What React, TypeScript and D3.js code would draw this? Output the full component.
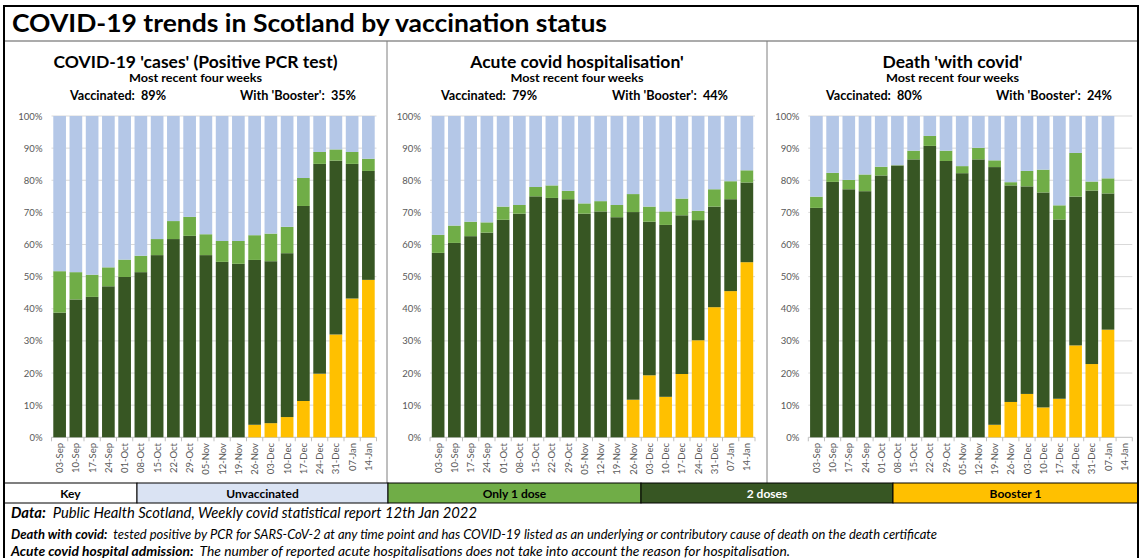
import React from "react";
import * as d3 from "d3";

// Week-ending dates shown on every panel
const weeks = [
  "03-Sep", "10-Sep", "17-Sep", "24-Sep", "01-Oct", "08-Oct", "15-Oct", "22-Oct", "29-Oct", "05-Nov",
  "12-Nov", "19-Nov", "26-Nov", "03-Dec", "10-Dec", "17-Dec", "24-Dec", "31-Dec", "07-Jan", "14-Jan",
];

// Share (%) of each group per week — COVID-19 cases (positive PCR test)
const casesBooster = [0, 0, 0, 0, 0, 0, 0, 0, 0, 0, 0, 0, 3.9, 4.4, 6.3, 11.3, 19.8, 32.0, 43.2, 49.0];
const casesTwoDoses = [38.8, 42.9, 43.7, 47.0, 49.9, 51.4, 56.7, 61.7, 62.7, 56.7, 54.6, 54.0, 51.3, 50.4, 51.0, 60.7, 65.3, 54.1, 41.9, 33.9];
const casesOneDose = [12.9, 8.5, 6.9, 5.9, 5.4, 5.1, 5.0, 5.6, 5.9, 6.5, 6.5, 7.1, 7.7, 8.6, 8.2, 8.7, 3.7, 3.5, 3.7, 3.8];

// Acute covid hospitalisation
const hospBooster = [0, 0, 0, 0, 0, 0, 0, 0, 0, 0, 0, 0, 11.7, 19.3, 12.6, 19.7, 30.2, 40.5, 45.5, 54.5];
const hospTwoDoses = [57.4, 60.5, 62.6, 63.7, 67.7, 69.6, 75.0, 74.5, 74.1, 69.6, 70.3, 68.5, 58.4, 47.8, 53.5, 49.4, 37.4, 31.3, 28.6, 24.8];
const hospOneDose = [5.6, 5.4, 4.5, 3.2, 4.1, 2.7, 2.9, 3.9, 2.6, 3.2, 3.2, 3.8, 5.6, 4.7, 4.2, 5.2, 2.9, 5.4, 5.6, 3.8];

// Death 'with covid' (no figure yet for 14-Jan)
const deathBooster = [0, 0, 0, 0, 0, 0, 0, 0, 0, 0, 0, 3.9, 11.0, 13.5, 9.3, 12.0, 28.6, 22.8, 33.5, null];
const deathTwoDoses = [71.4, 79.5, 77.2, 76.6, 81.5, 84.6, 86.5, 90.7, 86.0, 82.2, 86.5, 80.2, 67.4, 64.6, 66.9, 55.8, 46.3, 54.0, 42.4, null];
const deathOneDose = [3.5, 2.8, 2.9, 5.2, 2.7, 0.1, 2.7, 3.1, 3.2, 2.2, 3.6, 2.1, 1.0, 4.8, 7.1, 4.4, 13.6, 2.8, 4.7, null];

const yTicks = [0, 10, 20, 30, 40, 50, 60, 70, 80, 90, 100];

const groups = ["booster", "two", "one", "unvac"] as const;
const groupColors: Record<string, string> = {
  unvac: "#b4c7e7",
  one: "#70ad47",
  two: "#375623",
  booster: "#ffc000",
};

const FONT = "Lato, 'Open Sans', 'DejaVu Sans', sans-serif";

type Row = { week: string; booster: number; two: number; one: number; unvac: number; has: boolean };

function buildRows(b: (number | null)[], t: (number | null)[], o: (number | null)[]): Row[] {
  return weeks.map((w, i) => {
    const has = b[i] != null && t[i] != null && o[i] != null;
    const bb = has ? (b[i] as number) : 0;
    const tt = has ? (t[i] as number) : 0;
    const oo = has ? (o[i] as number) : 0;
    return { week: w, booster: bb, two: tt, one: oo, unvac: has ? 100 - bb - tt - oo : 0, has };
  });
}

const panels = [
  {
    title: "COVID-19 'cases' (Positive PCR test)",
    vaccinated: "89%",
    boosted: "35%",
    rows: buildRows(casesBooster, casesTwoDoses, casesOneDose),
    box: [4, 387],
    plot: [51.5, 376.5],
    vacX: 70,
    boostX: 240,
  },
  {
    title: "Acute covid hospitalisation'",
    vaccinated: "79%",
    boosted: "44%",
    rows: buildRows(hospBooster, hospTwoDoses, hospOneDose),
    box: [387, 767],
    plot: [430, 755],
    vacX: 441,
    boostX: 612,
  },
  {
    title: "Death 'with covid'",
    vaccinated: "80%",
    boosted: "24%",
    rows: buildRows(deathBooster, deathTwoDoses, deathOneDose),
    box: [767, 1138],
    plot: [808.3, 1132.3],
    vacX: 826,
    boostX: 996,
  },
];

const keyCells = [
  { label: "Key", fill: "#ffffff", text: "#000000" },
  { label: "Unvaccinated", fill: "#dae3f3", text: "#000000" },
  { label: "Only 1 dose", fill: groupColors.one, text: "#000000" },
  { label: "2 doses", fill: groupColors.two, text: "#ffffff" },
  { label: "Booster 1", fill: groupColors.booster, text: "#000000" },
];
const keyEdges = [4, 137, 388, 641, 893, 1138];

const y = d3.scaleLinear().domain([0, 100]).range([437.3, 116]);

function Panel({ p }: { p: (typeof panels)[number] }) {
  const x = d3.scaleBand<string>().domain(weeks).range(p.plot as [number, number]).paddingInner(0.22).paddingOuter(0.11);
  const stacked = d3.stack<Row>().keys(groups as unknown as string[])(p.rows);
  const cx = (p.box[0] + p.box[1]) / 2;
  const step = x.step();
  return (
    <g>
      <text x={cx} y={68} textAnchor="middle" fontFamily={FONT} fontWeight={700} fontSize={17.5}>
        {p.title}
      </text>
      <text x={cx} y={82} textAnchor="middle" fontFamily={FONT} fontWeight={700} fontSize={12} textLength={133} lengthAdjust="spacingAndGlyphs">
        Most recent four weeks
      </text>
      <text x={p.vacX} y={100} fontFamily={FONT} fontWeight={700} fontSize={12.5} xmlSpace="preserve" textLength={96} lengthAdjust="spacingAndGlyphs">
        {`Vaccinated:  ${p.vaccinated}`}
      </text>
      <text x={p.boostX} y={100} fontFamily={FONT} fontWeight={700} fontSize={12.5} xmlSpace="preserve" textLength={116} lengthAdjust="spacingAndGlyphs">
        {`With 'Booster':  ${p.boosted}`}
      </text>
      {yTicks.map((t) => (
        <g key={t}>
          <line x1={p.plot[0]} x2={p.plot[1]} y1={y(t)} y2={y(t)} stroke={t === 0 ? "#bfbfbf" : "#d9d9d9"} strokeWidth={1} />
          <text x={p.plot[0] - 9} y={y(t) + 3.5} textAnchor="end" fontFamily={FONT} fontSize={9.5} fill="#595959">
            {`${t}%`}
          </text>
        </g>
      ))}
      {stacked.map((layer) => (
        <g key={layer.key} fill={groupColors[layer.key]}>
          {layer.map((d, i) =>
            d.data.has ? (
              <rect key={i} x={x(d.data.week)} width={x.bandwidth()} y={y(d[1])} height={Math.max(0, y(d[0]) - y(d[1]))} />
            ) : null
          )}
        </g>
      ))}
      {d3.range(weeks.length + 1).map((i) => {
        const tx = p.plot[0] + i * step;
        return <line key={i} x1={tx} x2={tx} y1={y(0)} y2={y(0) + 4} stroke="#bfbfbf" />;
      })}
      {weeks.map((w) => {
        const tx = (x(w) as number) + x.bandwidth() / 2 + 3.5;
        return (
          <text key={w} transform={`translate(${tx},${443}) rotate(-90)`} textAnchor="end" fontFamily={FONT} fontSize={9.5} fill="#595959">
            {w}
          </text>
        );
      })}
    </g>
  );
}

export default function App() {
  return (
    <svg width={1140} height={558} style={{ position: "absolute", left: 0, top: 0, background: "#ffffff" }}>
      <rect x={0} y={0} width={1140} height={558} fill="#ffffff" />
      <text x={12} y={32} fontFamily={FONT} fontWeight={700} fontSize={25} textLength={595} lengthAdjust="spacingAndGlyphs">
        COVID-19 trends in Scotland by vaccination status
      </text>
      {/* panel frames */}
      <line x1={4} x2={1138} y1={41} y2={41} stroke="#595959" strokeWidth={1.2} />
      <line x1={387} x2={387} y1={41} y2={483} stroke="#7f7f7f" />
      <line x1={767} x2={767} y1={41} y2={483} stroke="#7f7f7f" />
      {panels.map((p) => (
        <Panel key={p.title} p={p} />
      ))}
      {/* key row */}
      {keyCells.map((k, i) => (
        <g key={k.label}>
          <rect x={keyEdges[i]} y={483} width={keyEdges[i + 1] - keyEdges[i]} height={20} fill={k.fill} stroke="#000000" strokeWidth={1} />
          <text x={(keyEdges[i] + keyEdges[i + 1]) / 2} y={497.5} textAnchor="middle" fontFamily={FONT} fontWeight={700} fontSize={12} fill={k.text}>
            {k.label}
          </text>
        </g>
      ))}
      {/* notes */}
      <text x={11} y={518} fontFamily={FONT} fontSize={15.5} fontStyle="italic" xmlSpace="preserve" textLength={466} lengthAdjust="spacingAndGlyphs">
        <tspan fontWeight={700}>Data:</tspan>
        <tspan>{"  Public Health Scotland, Weekly covid statistical report 12th Jan 2022"}</tspan>
      </text>
      <text x={11} y={539} fontFamily={FONT} fontSize={12.5} fontStyle="italic" xmlSpace="preserve" textLength={926} lengthAdjust="spacingAndGlyphs">
        <tspan fontWeight={700}>Death with covid:</tspan>
        <tspan>{"  tested positive by PCR for SARS-CoV-2 at any time point and has COVID-19 listed as an underlying or contributory cause of death on the death certificate"}</tspan>
      </text>
      <text x={11} y={556} fontFamily={FONT} fontSize={12.5} fontStyle="italic" xmlSpace="preserve" textLength={779} lengthAdjust="spacingAndGlyphs">
        <tspan fontWeight={700}>Acute covid hospital admission:</tspan>
        <tspan>{"  The number of reported acute hospitalisations does not take into account the reason for hospitalisation."}</tspan>
      </text>
      {/* outer frame */}
      <rect x={4} y={6} width={1134} height={560} fill="none" stroke="#000000" strokeWidth={2} />
    </svg>
  );
}
